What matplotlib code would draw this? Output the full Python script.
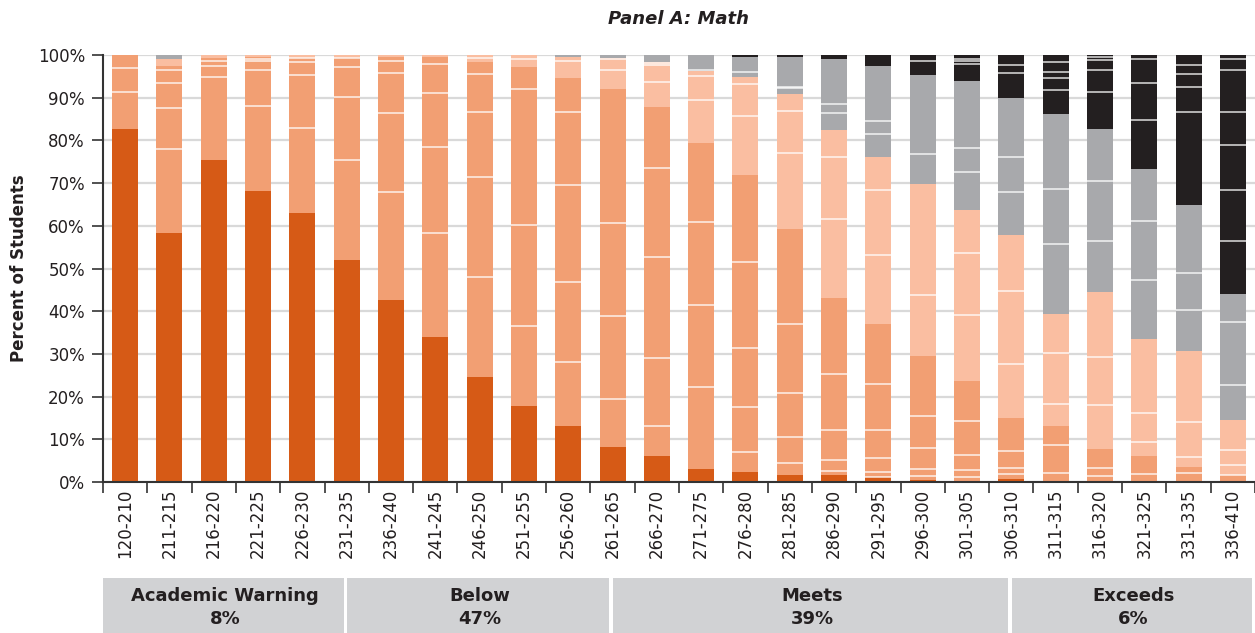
import matplotlib.pyplot as plt
import numpy as np

# Score bands (x categories)
score_bands = ["120-210", "211-215", "216-220", "221-225", "226-230", "231-235",
               "236-240", "241-245", "246-250", "251-255", "256-260", "261-265",
               "266-270", "271-275", "276-280", "281-285", "286-290", "291-295",
               "296-300", "301-305", "306-310", "311-315", "316-320", "321-325",
               "331-335", "336-410"]

# Percent of students in each level of the other test
warning = [82.7, 58.4, 75.5, 68.2, 62.9, 51.9, 42.7, 33.9, 24.7, 17.7, 13.0, 8.3, 6.2,
           3.1, 2.3, 1.6, 1.6, 1.1, 0.5, 0.2, 0.7, 0.1, 0.2, 0.1, 0.1, 0.1]
below = [17.3, 39.0, 23.8, 31.3, 36.5, 47.5, 56.8, 65.6, 73.7, 79.6, 81.7, 83.7, 81.7,
         76.4, 69.6, 57.7, 41.6, 36.0, 28.9, 23.4, 14.4, 13.1, 7.6, 6.1, 3.5, 1.6]
approaching = [0.0, 1.7, 0.7, 0.5, 0.6, 0.6, 0.5, 0.5, 1.6, 2.7, 4.8, 7.2, 10.5,
               16.8, 23.0, 31.6, 39.2, 39.0, 40.4, 40.1, 42.8, 26.2, 36.7, 27.3, 27.0, 12.9]
meets = [0.0, 0.9, 0.0, 0.0, 0.0, 0.0, 0.0, 0.0, 0.0, 0.0, 0.5, 0.8, 1.6,
         3.7, 4.6, 8.6, 16.7, 21.3, 25.5, 30.2, 32.0, 46.8, 38.2, 39.8, 34.3, 29.5]
exceeds = [0.0, 0.0, 0.0, 0.0, 0.0, 0.0, 0.0, 0.0, 0.0, 0.0, 0.0, 0.0, 0.0,
           0.0, 0.5, 0.5, 0.9, 2.6, 4.7, 6.1, 10.1, 13.8, 17.3, 26.7, 35.1, 55.9]

# Sub-group boundaries inside each bar (percent)
dividers = [
    [91.4, 97.0],
    [78.1, 87.7, 93.4, 96.6],
    [94.9, 97.5, 98.7],
    [88.0, 96.4, 98.7, 99.1],
    [82.8, 95.3, 98.4, 99.4],
    [75.3, 90.1, 97.2, 99.3],
    [68.0, 86.4, 95.7, 98.7],
    [58.3, 78.4, 91.0, 97.8],
    [48.0, 71.5, 86.6, 95.5, 99.3],
    [36.5, 60.3, 92.1, 99.1],
    [28.1, 46.8, 69.6, 86.6, 98.7],
    [19.5, 38.8, 60.6, 96.5, 99.0],
    [13.0, 29.0, 52.8, 73.6, 93.7, 97.6, 98.2],
    [22.2, 41.4, 61.0, 89.5, 95.1, 96.6],
    [7.0, 17.6, 31.4, 51.5, 85.8, 93.3, 96.1],
    [4.4, 10.5, 20.8, 37.0, 77.0, 87.0, 92.3, 92.6],
    [2.5, 5.2, 12.1, 25.4, 61.5, 76.2, 86.4, 88.5],
    [1.1, 2.3, 5.6, 12.1, 22.9, 53.1, 68.3, 81.4, 84.6],
    [1.3, 3.0, 7.9, 15.4, 43.7, 76.8, 98.7],
    [1.2, 2.9, 6.4, 14.2, 39.1, 53.6, 72.5, 78.3, 97.9, 98.5, 99.0],
    [1.9, 3.3, 7.2, 27.7, 44.7, 68.0, 76.2, 95.9, 97.7],
    [2.1, 8.7, 18.3, 30.2, 55.7, 68.6, 91.8, 94.5, 96.1, 98.4],
    [1.3, 3.3, 18.1, 29.2, 56.4, 70.4, 91.4, 96.5, 98.8, 99.6],
    [1.9, 9.4, 16.1, 47.4, 61.1, 84.8, 93.5, 99.1],
    [2.1, 5.9, 14.0, 40.2, 48.9, 86.7, 92.6, 95.5, 97.7],
    [1.7, 3.9, 7.6, 22.8, 37.4, 56.4, 68.4, 78.9, 86.7, 96.4, 99.1],
]

# Performance levels shown under the axis
level_names = ["Academic Warning", "Below", "Meets", "Exceeds"]
level_shares = ["8%", "47%", "39%", "6%"]
level_first_band = ["120-210", "231-235", "261-265", "306-310"]

colors = ["#D65A16", "#F29F73", "#FABEA1", "#A8A9AC", "#231F20"]
txt = "#231F20"
plt.rcParams['font.family'] = ['DejaVu Sans']

W, H = 1255, 633
fig = plt.figure(figsize=(W / 100, H / 100), dpi=100)
ax = fig.add_axes([103 / W, 1 - 482 / H, (W - 103) / W, (482 - 55) / H])

x = np.arange(len(score_bands))
bw = 0.587
bottom = np.zeros(len(x))
for vals, c in zip([warning, below, approaching, meets, exceeds], colors):
    ax.bar(x, vals, bw, bottom=bottom, color=c, zorder=2, linewidth=0)
    bottom += np.array(vals)

for i, ys in enumerate(dividers):
    ax.hlines(ys, i - bw / 2, i + bw / 2, color="white", lw=1.1, alpha=0.85, zorder=3)

ax.set_xlim(-0.5, len(x) - 0.5)
ax.set_ylim(0, 100)
ax.set_yticks(np.arange(0, 101, 10))
ax.set_yticklabels([f"{v}%" for v in range(0, 101, 10)], fontsize=12, color=txt)
ax.set_xticks(x)
ax.set_xticklabels(score_bands, rotation=90, fontsize=12, color=txt)
ax.set_xticks(np.arange(-0.5, len(x), 1), minor=True)
ax.tick_params(axis="x", which="major", length=0, pad=5)
ax.tick_params(axis="x", which="minor", length=8, width=1.2, color="#333333")
ax.tick_params(axis="y", length=8, width=1.2, color="#333333", pad=5)
ax.yaxis.grid(True, color="#D9D9D9", lw=1.6, zorder=0)
ax.set_axisbelow(True)
for s in ["top", "right"]:
    ax.spines[s].set_visible(False)
for s in ["left", "bottom"]:
    ax.spines[s].set_color("#333333")
    ax.spines[s].set_linewidth(1.5)

ax.set_ylabel("Percent of Students", fontsize=12, fontweight="bold", color=txt, labelpad=7)
ax.set_title("Panel A: Math", fontsize=13, fontweight="bold", style="italic",
             color=txt, pad=22)

# Level boxes under the chart
bx = fig.add_axes([103 / W, 0, (W - 103) / W, (633 - 578) / H])
bx.set_xlim(-0.5, len(x) - 0.5)
bx.set_ylim(0, 1)
bx.axis("off")
starts = [score_bands.index(b) for b in level_first_band]
starts[0] = -0.5
ends = starts[1:] + [len(x) - 0.5]
for s, e, name, share in zip(starts, ends, level_names, level_shares):
    bx.bar(s + 0.01, 1, e - s - 0.08, align="edge", color="#D1D2D4", linewidth=0)
    cx = (s + e) / 2
    bx.text(cx, 0.68, name, ha="center", va="center", fontsize=13, fontweight="bold", color=txt)
    bx.text(cx, 0.26, share, ha="center", va="center", fontsize=13, fontweight="bold", color=txt)

fig.savefig("out.png", dpi=100)
